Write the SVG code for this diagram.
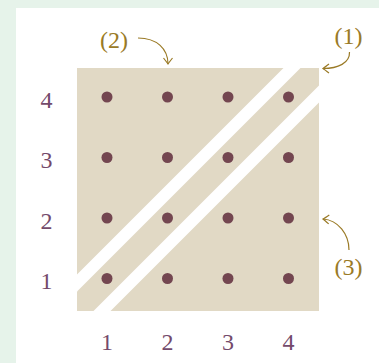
<svg xmlns="http://www.w3.org/2000/svg" width="379" height="363" viewBox="0 0 379 363">
<style>
.lbl{font-family:"Liberation Serif","Times New Roman",serif;font-size:24px;fill:#744a6b;text-anchor:middle}
.ann{font-family:"Liberation Serif","Times New Roman",serif;font-size:24px;fill:#9a7a26;text-anchor:middle}
.dot{fill:#734650}
.stripe{stroke:#ffffff;stroke-width:12;fill:none}
.arr{stroke:#9a7a26;stroke-width:1.2;fill:none;marker-end:url(#head)}
</style>
<defs>
<marker id="head" markerWidth="12" markerHeight="12" refX="0" refY="0" viewBox="-7 -6 9 12" orient="auto" markerUnits="userSpaceOnUse">
<path d="M-6,-4.5 Q-1.5,-1 0,0 Q-1.5,1 -6,4.5" stroke="#9a7a26" stroke-width="1.2" fill="none"/>
</marker>
<clipPath id="box"><rect x="77" y="68" width="242" height="243"/></clipPath>
</defs>
<rect x="0" y="0" width="379" height="363" fill="#e6f3ea"/>
<rect x="16" y="8" width="363" height="355" fill="#ffffff"/>
<g id="board">
<rect x="77" y="68" width="242" height="243" fill="#e1d9c5"/>
<g clip-path="url(#box)">
<line class="stripe" x1="60" y1="300" x2="310" y2="50"/>
<line class="stripe" x1="90" y1="323" x2="335" y2="78"/>
</g>
</g>
<g id="dots">
<circle class="dot" cx="107" cy="97" r="5.5"/><circle class="dot" cx="167.5" cy="97" r="5.5"/><circle class="dot" cx="228" cy="97" r="5.5"/><circle class="dot" cx="288.5" cy="97" r="5.5"/>
<circle class="dot" cx="107" cy="157.5" r="5.5"/><circle class="dot" cx="167.5" cy="157.5" r="5.5"/><circle class="dot" cx="228" cy="157.5" r="5.5"/><circle class="dot" cx="288.5" cy="157.5" r="5.5"/>
<circle class="dot" cx="107" cy="218" r="5.5"/><circle class="dot" cx="167.5" cy="218" r="5.5"/><circle class="dot" cx="228" cy="218" r="5.5"/><circle class="dot" cx="288.5" cy="218" r="5.5"/>
<circle class="dot" cx="107" cy="278.5" r="5.5"/><circle class="dot" cx="167.5" cy="278.5" r="5.5"/><circle class="dot" cx="228" cy="278.5" r="5.5"/><circle class="dot" cx="288.5" cy="278.5" r="5.5"/>
</g>
<g id="row-labels">
<text class="lbl" x="46.5" y="107.5">4</text>
<text class="lbl" x="46.5" y="168">3</text>
<text class="lbl" x="46.5" y="228.5">2</text>
<text class="lbl" x="46.5" y="289">1</text>
</g>
<g id="col-labels">
<text class="lbl" x="107" y="349.5">1</text>
<text class="lbl" x="167.5" y="349.5">2</text>
<text class="lbl" x="228" y="349.5">3</text>
<text class="lbl" x="288.5" y="349.5">4</text>
</g>
<g id="annotations">
<text id="ann1" class="ann" x="348.5" y="43.5">(1)</text>
<text id="ann2" class="ann" x="114" y="47.5">(2)</text>
<text id="ann3" class="ann" x="348.5" y="274.5">(3)</text>
</g>
<g id="connectors">
<path class="arr" d="M349.5,52 C350,63 338,68.5 323,68.5"/>
<path class="arr" d="M138,38 C157,38 168,49 168,64"/>
<path class="arr" d="M349,250 C349,234 338,220 323,219"/>
</g>
</svg>
